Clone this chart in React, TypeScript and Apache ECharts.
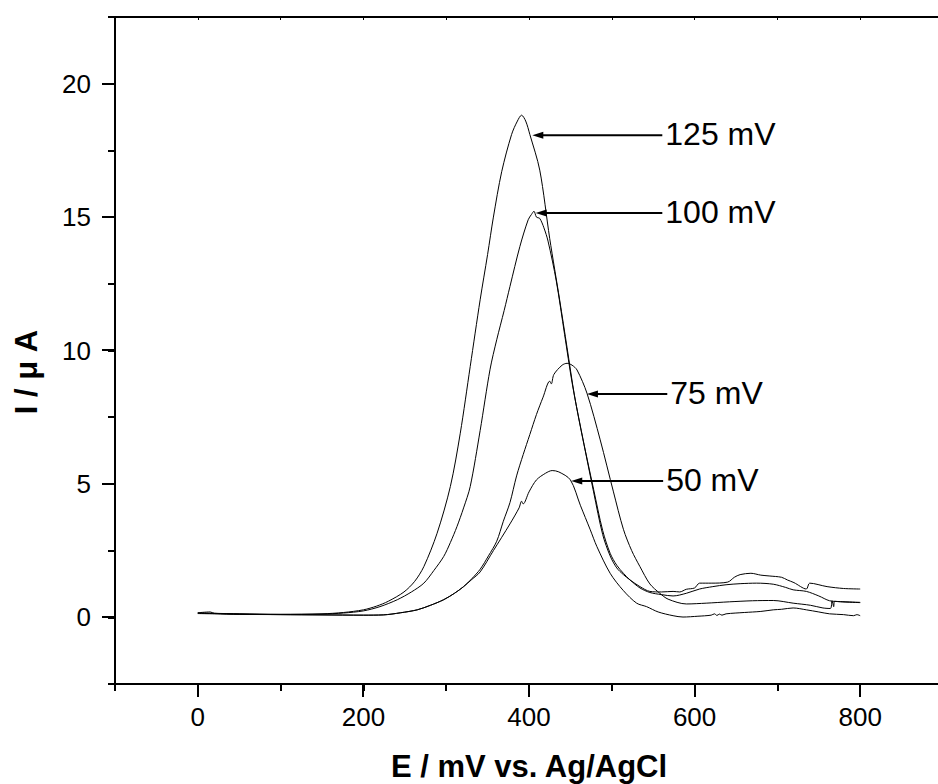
import React, { useEffect, useRef } from "react";
import * as echarts from "echarts";

// ---- data (E in mV vs. Ag/AgCl, I in µA) ----
const e125 = [0, 20, 50, 100, 150, 176, 200, 216, 230, 249, 262, 273, 289, 305, 317, 329, 341, 350, 357, 367, 379, 386, 391, 396, 401, 413, 425, 437, 446, 455, 465, 478, 489, 498, 506, 514, 522, 534, 546, 560, 574, 582, 590, 600, 606, 620, 640, 648, 655, 668, 680, 690, 705, 712, 720, 735, 739, 760, 780, 800];
const i125 = [0.17, 0.15, 0.13, 0.11, 0.13, 0.18, 0.28, 0.42, 0.6, 0.95, 1.35, 1.9, 3.15, 4.9, 6.9, 9.4, 11.9, 13.6, 15.0, 16.7, 18.1, 18.6, 18.82, 18.6, 18.1, 16.76, 14.2, 11.9, 10.1, 8.3, 6.7, 4.7, 3.1, 2.3, 1.85, 1.6, 1.4, 1.15, 0.97, 0.95, 0.97, 0.95, 1.05, 1.1, 1.28, 1.28, 1.32, 1.5, 1.6, 1.65, 1.58, 1.55, 1.5, 1.4, 1.3, 1.06, 1.28, 1.15, 1.08, 1.06];

const e100 = [0, 20, 50, 100, 150, 176, 200, 220, 241, 258, 273, 285, 297, 305, 313, 321, 329, 341, 353, 361, 370, 377, 389, 399, 403, 406, 409, 413, 418, 423, 433, 443, 452, 463, 478, 489, 498, 506, 514, 522, 534, 546, 560, 574, 590, 606, 622, 638, 655, 675, 695, 710, 719, 735, 750, 763, 776, 800];
const i100 = [0.15, 0.14, 0.12, 0.11, 0.12, 0.16, 0.24, 0.4, 0.66, 0.95, 1.28, 1.75, 2.28, 2.8, 3.4, 4.1, 4.9, 7.0, 9.3, 10.4, 11.5, 12.4, 13.9, 14.9, 15.1, 15.22, 15.0, 14.95, 14.6, 14.1, 12.6, 10.6, 8.8, 7.0, 4.8, 3.25, 2.4, 1.95, 1.65, 1.4, 1.1, 0.93, 0.85, 0.8, 0.9, 1.06, 1.15, 1.22, 1.26, 1.28, 1.24, 1.12, 1.03, 0.97, 0.8, 0.62, 0.59, 0.56];

const e75 = [0, 20, 50, 100, 150, 200, 224, 245, 265, 281, 297, 310, 321, 331, 341, 351, 361, 369, 377, 385, 393, 401, 409, 417, 425, 427, 430, 440, 446, 452, 458, 470, 486, 502, 514, 524, 534, 546, 558, 568, 590, 614, 642, 670, 695, 719, 740, 755, 764, 766, 768, 769, 776, 800];
const i75 = [0.14, 0.13, 0.11, 0.1, 0.09, 0.08, 0.09, 0.17, 0.28, 0.45, 0.66, 0.9, 1.15, 1.45, 1.8, 2.3, 2.85, 3.6, 4.3, 5.3, 6.1, 6.85, 7.6, 8.25, 8.85, 8.75, 9.1, 9.45, 9.52, 9.45, 9.27, 8.4, 6.65, 4.7, 3.3, 2.5, 1.9, 1.25, 0.9, 0.68, 0.5, 0.53, 0.58, 0.62, 0.63, 0.53, 0.45, 0.35, 0.33, 0.62, 0.4, 0.6, 0.58, 0.55];

const e50 = [0, 15, 20, 50, 100, 150, 200, 224, 245, 265, 281, 297, 310, 321, 331, 341, 357, 377, 388, 391, 393, 400, 409, 420, 428, 436, 450, 462, 474, 482, 498, 514, 530, 542, 556, 574, 586, 604, 620, 624, 627, 630, 633, 638, 660, 680, 695, 705, 719, 735, 750, 763, 780, 792, 796, 800];
const i50 = [0.17, 0.2, 0.15, 0.12, 0.1, 0.09, 0.08, 0.09, 0.17, 0.28, 0.45, 0.66, 0.9, 1.15, 1.42, 1.7, 2.5, 3.5, 4.1, 4.35, 4.25, 4.7, 5.15, 5.4, 5.5, 5.45, 5.15, 4.2, 3.28, 2.65, 1.65, 1.0, 0.53, 0.4, 0.2, 0.06, 0.01, 0.04, 0.08, 0.13, 0.07, 0.12, 0.08, 0.13, 0.18, 0.22, 0.28, 0.3, 0.35, 0.28, 0.2, 0.13, 0.1, 0.06, 0.1, 0.06];

const xMajorTicks = [0, 200, 400, 600, 800];
const yMajorTicks = [0, 5, 10, 15, 20];

// annotations (data coordinates)
const annLabels = ["125 mV", "100 mV", "75 mV", "50 mV"];
const annTipE = [404, 408, 470, 451];
const annTipI = [18.07, 15.15, 8.37, 5.11];
const annTailE = [561, 561, 567, 562];

const FONT = '"Liberation Sans", Arial, Helvetica, sans-serif';

const zip = (xs: number[], ys: number[]) => xs.map((x, k) => [x, ys[k]]);

export default function App() {
  const ref = useRef<HTMLDivElement>(null);

  useEffect(() => {
    if (!ref.current) return;
    const chart = echarts.init(ref.current, undefined, { renderer: "svg" });

    const black = "#000";
    const X_MIN = -100, X_MAX = 900, Y_MIN = -2.5, Y_MAX = 22.5;
    const mkSeries = (name: string, xs: number[], ys: number[]) => ({
      name,
      type: "line",
      data: zip(xs, ys),
      showSymbol: false,
      symbol: "none",
      smooth: 0.3,
      lineStyle: { color: black, width: 1 },
      xAxisIndex: 0,
      yAxisIndex: 0,
      silent: true,
    });

    const graphics: any[] = [];
    const option: any = {
      animation: false,
      backgroundColor: "#fff",
      grid: { left: 115, top: 17, width: 828, height: 667, containLabel: false },
      xAxis: [
        {
          type: "value",
          min: X_MIN,
          max: X_MAX,
          interval: 100,
          position: "bottom",
          axisLine: { show: true, onZero: false, lineStyle: { color: black, width: 2 } },
          axisTick: { show: true, length: 7, lineStyle: { color: black, width: 2 } },
          axisLabel: { fontSize: 26, fontFamily: FONT, color: black, margin: 20, formatter: (v: number) => (xMajorTicks.indexOf(v) >= 0 ? String(v) : "") },
          splitLine: { show: false },
        },
        {
          type: "value",
          min: X_MIN,
          max: X_MAX,
          interval: 100,
          position: "top",
          axisLine: { show: true, onZero: false, lineStyle: { color: black, width: 2 } },
          axisTick: { show: true, inside: true, length: 3, lineStyle: { color: black, width: 1 } },
          axisLabel: { show: false },
          splitLine: { show: false },
        },
      ],
      yAxis: [
        {
          type: "value",
          min: Y_MIN,
          max: Y_MAX,
          interval: 2.5,
          position: "left",
          axisLine: { show: true, onZero: false, lineStyle: { color: black, width: 2 } },
          axisTick: { show: true, length: 7, lineStyle: { color: black, width: 2 } },
          axisLabel: { fontSize: 26, fontFamily: FONT, color: black, margin: 24, formatter: (v: number) => (yMajorTicks.indexOf(v) >= 0 ? String(v) : "") },
          splitLine: { show: false },
        },
      ],
      series: [
        mkSeries("125 mV", e125, i125),
        mkSeries("100 mV", e100, i100),
        mkSeries("75 mV", e75, i75),
        mkSeries("50 mV", e50, i50),
      ],
    };
    chart.setOption(option);

    const toPx = (x: number, y: number) =>
      chart.convertToPixel({ xAxisIndex: 0, yAxisIndex: 0 }, [x, y]) as number[];

    // major (long) ticks
    xMajorTicks.forEach((v) => {
      const p = toPx(v, Y_MIN);
      graphics.push({
        type: "rect",
        z: 100,
        shape: { x: Math.round(p[0]) - 1, y: Math.round(p[1]), width: 2, height: 13 },
        style: { fill: black },
        silent: true,
      });
    });
    yMajorTicks.forEach((v) => {
      const p = toPx(X_MIN, v);
      graphics.push({
        type: "rect",
        z: 100,
        shape: { x: Math.round(p[0]) - 13, y: Math.round(p[1]) - 1, width: 13, height: 2 },
        style: { fill: black },
        silent: true,
      });
    });

    annLabels.forEach((label, k) => {
      const tip = toPx(annTipE[k], annTipI[k]);
      const tail = toPx(annTailE[k], annTipI[k]);
      const head = 11;
      graphics.push({
        type: "line",
        shape: { x1: tail[0], y1: tip[1], x2: tip[0] + head - 1, y2: tip[1] },
        style: { stroke: black, lineWidth: 2 },
        silent: true,
      });
      graphics.push({
        type: "polygon",
        shape: { points: [[tip[0], tip[1]], [tip[0] + head, tip[1] - 3.5], [tip[0] + head, tip[1] + 3.5]] },
        style: { fill: black },
        silent: true,
      });
      graphics.push({
        type: "text",
        x: tail[0] + 3,
        y: tip[1] - 1,
        style: { text: label, fontSize: 32, fontFamily: FONT, fill: black, align: "left", verticalAlign: "middle" },
        silent: true,
      });
    });
    graphics.push({
      type: "text",
      x: 529,
      y: 766,
      style: { text: "E / mV vs. Ag/AgCl", fontSize: 31, fontWeight: "bold", fontFamily: FONT, fill: black, align: "center", verticalAlign: "middle" },
      silent: true,
    });
    graphics.push({
      type: "text",
      x: 26,
      y: 372,
      rotation: Math.PI / 2,
      style: { text: "I / μ A", fontSize: 31, fontWeight: "bold", fontFamily: FONT, fill: black, align: "center", verticalAlign: "middle" },
      silent: true,
    });
    chart.setOption({ graphic: { elements: graphics } });

    return () => {
      chart.dispose();
    };
  }, []);

  return (
    <div
      style={{
        position: "fixed",
        left: 0,
        top: 0,
        width: 938,
        height: 784,
        overflow: "hidden",
        background: "#fff",
      }}
    >
      <div ref={ref} style={{ width: 960, height: 784 }} />
    </div>
  );
}
